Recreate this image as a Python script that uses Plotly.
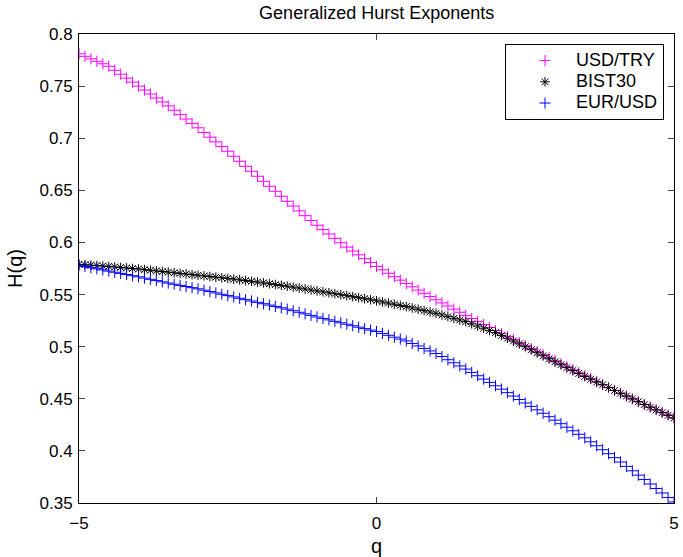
import plotly.graph_objects as go

q = [round(-5 + 0.1 * i, 1) for i in range(101)]

usd_try = [
    0.7810, 0.7786, 0.7762, 0.7738, 0.7714,
    0.7690, 0.7652, 0.7614, 0.7576, 0.7538,
    0.7500, 0.7462, 0.7424, 0.7386, 0.7348,
    0.7310, 0.7268, 0.7226, 0.7184, 0.7142,
    0.7100, 0.7055, 0.7010, 0.6965, 0.6920,
    0.6875, 0.6827, 0.6779, 0.6731, 0.6683,
    0.6635, 0.6587, 0.6539, 0.6491, 0.6443,
    0.6395, 0.6349, 0.6303, 0.6257, 0.6211,
    0.6165, 0.6123, 0.6081, 0.6039, 0.5997,
    0.5955, 0.5918, 0.5881, 0.5844, 0.5807,
    0.5770, 0.5737, 0.5704, 0.5671, 0.5638,
    0.5605, 0.5574, 0.5543, 0.5512, 0.5481,
    0.5450, 0.5420, 0.5390, 0.5360, 0.5330,
    0.5300, 0.5271, 0.5242, 0.5213, 0.5184,
    0.5155, 0.5126, 0.5097, 0.5068, 0.5039,
    0.5010, 0.4981, 0.4952, 0.4923, 0.4894,
    0.4865, 0.4836, 0.4807, 0.4778, 0.4749,
    0.4720, 0.4692, 0.4664, 0.4636, 0.4608,
    0.4580, 0.4553, 0.4526, 0.4499, 0.4472,
    0.4445, 0.4420, 0.4395, 0.4370, 0.4345,
    0.4320,
]

bist30 = [
    0.5790, 0.5786, 0.5782, 0.5778, 0.5774,
    0.5770, 0.5765, 0.5760, 0.5755, 0.5750,
    0.5745, 0.5739, 0.5733, 0.5727, 0.5721,
    0.5715, 0.5709, 0.5703, 0.5697, 0.5691,
    0.5685, 0.5679, 0.5673, 0.5667, 0.5661,
    0.5655, 0.5648, 0.5641, 0.5634, 0.5627,
    0.5620, 0.5612, 0.5604, 0.5596, 0.5588,
    0.5580, 0.5571, 0.5562, 0.5553, 0.5544,
    0.5535, 0.5526, 0.5517, 0.5508, 0.5499,
    0.5490, 0.5480, 0.5470, 0.5460, 0.5450,
    0.5440, 0.5429, 0.5418, 0.5407, 0.5396,
    0.5385, 0.5372, 0.5359, 0.5346, 0.5333,
    0.5320, 0.5304, 0.5288, 0.5272, 0.5256,
    0.5240, 0.5219, 0.5198, 0.5177, 0.5156,
    0.5135, 0.5108, 0.5081, 0.5054, 0.5027,
    0.5000, 0.4971, 0.4942, 0.4913, 0.4884,
    0.4855, 0.4827, 0.4799, 0.4771, 0.4743,
    0.4715, 0.4688, 0.4661, 0.4634, 0.4607,
    0.4580, 0.4553, 0.4526, 0.4499, 0.4472,
    0.4445, 0.4419, 0.4393, 0.4367, 0.4341,
    0.4315,
]

eur_usd = [
    0.5780, 0.5769, 0.5758, 0.5747, 0.5736,
    0.5725, 0.5714, 0.5703, 0.5692, 0.5681,
    0.5670, 0.5658, 0.5646, 0.5634, 0.5622,
    0.5610, 0.5599, 0.5588, 0.5577, 0.5566,
    0.5555, 0.5542, 0.5529, 0.5516, 0.5503,
    0.5490, 0.5477, 0.5464, 0.5451, 0.5438,
    0.5425, 0.5412, 0.5399, 0.5386, 0.5373,
    0.5360, 0.5345, 0.5330, 0.5315, 0.5300,
    0.5285, 0.5271, 0.5257, 0.5243, 0.5229,
    0.5215, 0.5201, 0.5187, 0.5173, 0.5159,
    0.5145, 0.5127, 0.5109, 0.5091, 0.5073,
    0.5055, 0.5031, 0.5007, 0.4983, 0.4959,
    0.4935, 0.4905, 0.4875, 0.4845, 0.4815,
    0.4785, 0.4753, 0.4721, 0.4689, 0.4657,
    0.4625, 0.4592, 0.4559, 0.4526, 0.4493,
    0.4460, 0.4427, 0.4394, 0.4361, 0.4328,
    0.4295, 0.4261, 0.4227, 0.4193, 0.4159,
    0.4125, 0.4087, 0.4049, 0.4011, 0.3973,
    0.3935, 0.3893, 0.3851, 0.3809, 0.3767,
    0.3725, 0.3682, 0.3639, 0.3596, 0.3553,
    0.3510,
]

x_ticks = [-5, 0, 5]
x_tick_text = ["\u22125", "0", "5"]
y_ticks = [0.35, 0.4, 0.45, 0.5, 0.55, 0.6, 0.65, 0.7, 0.75, 0.8]
y_tick_text = ["0.35", "0.4", "0.45", "0.5", "0.55", "0.6", "0.65", "0.7", "0.75", "0.8"]

series = [
    ("USD/TRY", usd_try, "#ff00ff", "cross-thin-open"),
    ("BIST30", bist30, "#000000", "asterisk-open"),
    ("EUR/USD", eur_usd, "#0000ff", "cross-thin-open"),
]

FONT = "Liberation Sans, Arial, Helvetica, sans-serif"
FS = 17

fig = go.Figure()
for name, vals, col, sym in series:
    fig.add_trace(go.Scatter(
        x=q, y=vals, mode="markers",
        name='<span style="font-size:18px">' + name + "</span>",
        marker=dict(symbol=sym, size=8, color=col, line=dict(color=col, width=1)),
    ))

fig.update_layout(
    width=683, height=557,
    margin=dict(l=79, r=9, t=34, b=54),
    paper_bgcolor="white", plot_bgcolor="white",
    font=dict(family=FONT, size=FS, color="black"),
    title=dict(text="Generalized Hurst Exponents", x=0.5515, xanchor="center",
               y=1 - 13 / 557, yanchor="middle", font=dict(size=18)),
    showlegend=True,
    legend=dict(
        x=1 - 10 / 595, xanchor="right", y=1 - 10 / 469, yanchor="top",
        bordercolor="black", borderwidth=1, bgcolor="white",
        font=dict(size=14), itemwidth=52, indentation=8, tracegroupgap=0,
    ),
)

fig.update_xaxes(
    range=[-5, 5], tickvals=x_ticks, ticktext=x_tick_text, ticks="inside", ticklen=6,
    showline=True, linecolor="black", linewidth=1, mirror="allticks",
    showgrid=False, zeroline=False, automargin=False, ticklabelstandoff=5,
    title=dict(text="q", standoff=7),
)
fig.update_yaxes(
    range=[0.35, 0.8], tickvals=y_ticks, ticktext=y_tick_text, ticks="inside", ticklen=6,
    showline=True, linecolor="black", linewidth=1, mirror="allticks",
    showgrid=False, zeroline=False, automargin=False, ticklabelstandoff=2,
    title=dict(text="H(q)", standoff=11),
)

fig.write_html(
    "out.html",
    config={"displayModeBar": False},
    post_script="document.body.style.margin='0';document.body.style.overflow='hidden';",
)
